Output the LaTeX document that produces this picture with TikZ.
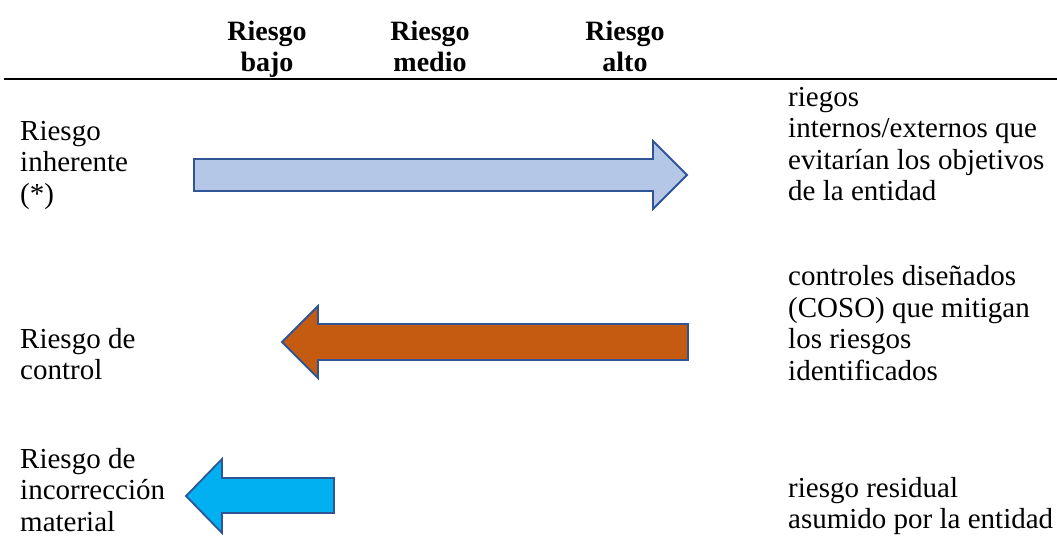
\documentclass[tikz,border=0pt]{standalone}
\usepackage{fontspec}
\setmainfont{Liberation Serif}

\definecolor{arrowedge}{HTML}{2F5597}
\definecolor{inhfill}{HTML}{B4C7E7}
\definecolor{ctrlfill}{HTML}{C55A11}
\definecolor{matfill}{HTML}{00B0F0}

\begin{document}
\begin{tikzpicture}
[
	x=1pt, y=-1pt,
	colhead/.style={font=\fontsize{28}{31}\selectfont\bfseries, align=center, anchor=north, inner sep=0pt},
	rowlabel/.style={font=\fontsize{29}{31.5}\selectfont, align=left, anchor=west, inner sep=0pt},
	blockarrow/.style={draw=arrowedge, line width=1.8pt, line join=miter}
]

	\useasboundingbox (0,0) rectangle (1057,539);

	% column heads
	\node[colhead] (bajo) at (267,20.5) {Riesgo\\bajo};
	\node[colhead] (medio) at (430,20.5) {Riesgo\\medio};
	\node[colhead] (alto) at (625,20.5) {Riesgo\\alto};
	\coordinate (ruleL) at (4,79);
	\coordinate (ruleR) at (1057,79);
	\draw[line width=2pt] (ruleL) -- (ruleR);

	% row labels
	\node[rowlabel] (inherente) at (20,165) {Riesgo\\inherente\\(*)};
	\node[rowlabel] (control) at (20,354) {Riesgo de\\control};
	\node[rowlabel] (material) at (20,490) {Riesgo de\\incorrección\\material};

	% descriptions
	\node[rowlabel] (descInherente) at (788,144) {riegos\\internos/externos que\\evitarían los objetivos\\de la entidad};
	\node[rowlabel] (descControl) at (788,323) {controles diseñados\\(COSO) que mitigan\\los riesgos\\identificados};
	\node[rowlabel] (descMaterial) at (788,506) {riesgo residual\\asumido por la entidad};

	% arrows
	\draw[blockarrow, fill=inhfill] (194,159) -- (653,159) -- (653,141) -- (687,175)
		-- (653,209) -- (653,191) -- (194,191) -- cycle;
	\draw[blockarrow, fill=ctrlfill] (688,324) -- (318,324) -- (318,306) -- (282,342)
		-- (318,378) -- (318,360) -- (688,360) -- cycle;
	\draw[blockarrow, fill=matfill] (334,478) -- (222,478) -- (222,459) -- (186,496)
		-- (222,533) -- (222,513) -- (334,513) -- cycle;

\end{tikzpicture}
\end{document}
